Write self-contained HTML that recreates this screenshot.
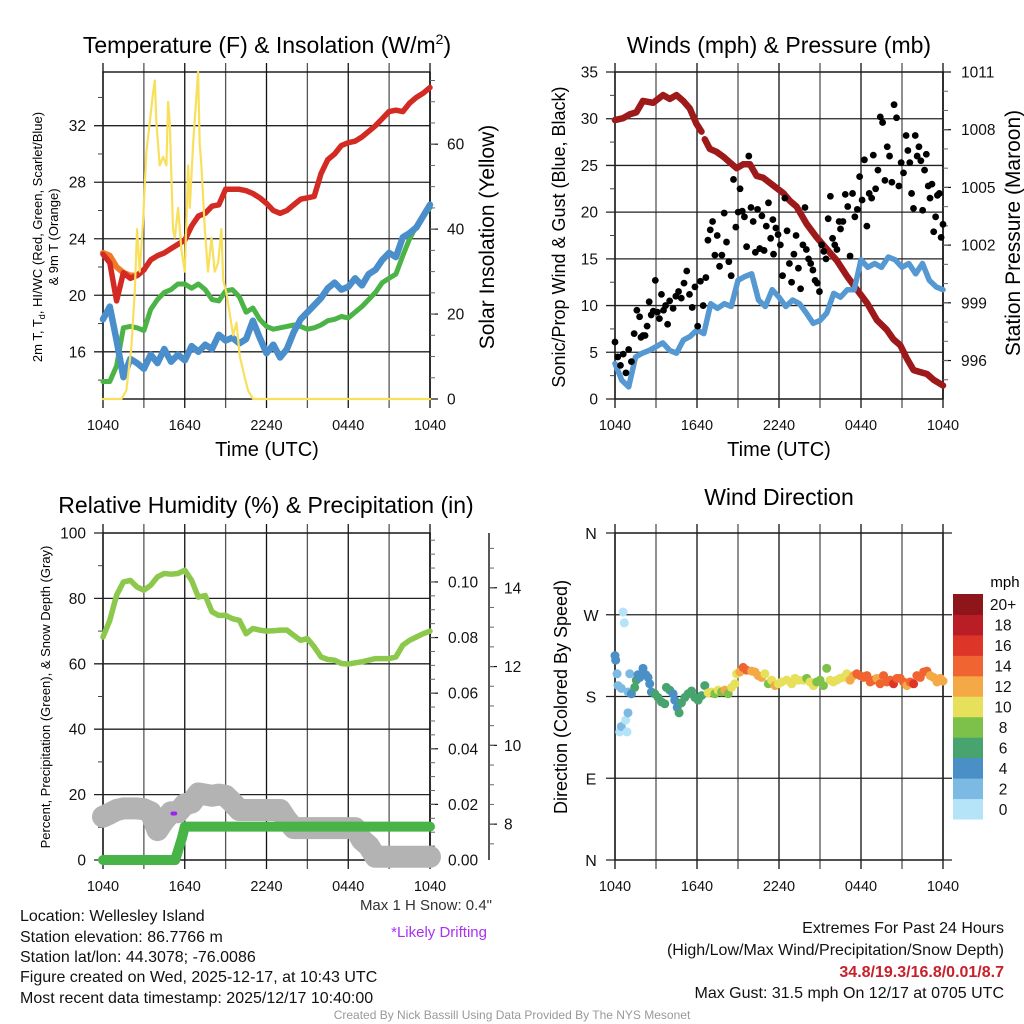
<!DOCTYPE html>
<html><head><meta charset="utf-8">
<style>
html,body{margin:0;padding:0;background:#fff;}
svg{display:block;font-family:"Liberation Sans",Arial,sans-serif;}
</style></head>
<body>
<svg id="fig" width="1024" height="1024" viewBox="0 0 1024 1024">
<text x="267" y="53" font-size="23" text-anchor="middle">Temperature (F) &amp; Insolation (W/m<tspan font-size="14" dy="-9">2</tspan><tspan dy="9">)</tspan></text>
<text x="779" y="53" font-size="23" text-anchor="middle">Winds (mph) &amp; Pressure (mb)</text>
<text x="266" y="513" font-size="23" text-anchor="middle">Relative Humidity (%) &amp; Precipitation (in)</text>
<text x="779" y="505" font-size="23" text-anchor="middle">Wind Direction</text>

<text x="267" y="456" font-size="20" text-anchor="middle">Time (UTC)</text>
<text x="779" y="456" font-size="20" text-anchor="middle">Time (UTC)</text>

<text transform="translate(42,237) rotate(-90)" font-size="13" text-anchor="middle">2m T, T<tspan font-size="9" dy="3">d</tspan><tspan dy="-3">, HI/WC (Red, Green, Scarlet/Blue)</tspan></text>
<text transform="translate(58,237) rotate(-90)" font-size="13" text-anchor="middle">&amp; 9m T (Orange)</text>
<text transform="translate(494,237) rotate(-90)" font-size="21" text-anchor="middle">Solar Insolation (Yellow)</text>
<text transform="translate(565,237) rotate(-90)" font-size="18" text-anchor="middle">Sonic/Prop Wind &amp; Gust (Blue, Black)</text>
<text transform="translate(1020,233) rotate(-90)" font-size="21" text-anchor="middle">Station Pressure (Maroon)</text>
<text transform="translate(50,697) rotate(-90)" font-size="13" text-anchor="middle">Percent, Precipitation (Green), &amp; Snow Depth (Gray)</text>
<text transform="translate(567,697) rotate(-90)" font-size="18" text-anchor="middle">Direction (Colored By Speed)</text>

<g id="layer"></g>

<text x="1005" y="587" font-size="15" text-anchor="middle">mph</text>

<text x="492" y="910" font-size="15" text-anchor="end" fill="#333">Max 1 H Snow: 0.4"</text>
<text x="487" y="937" font-size="15" text-anchor="end" fill="#a832f0">*Likely Drifting</text>

<g font-size="16" fill="#111">
<text x="20" y="921">Location: Wellesley Island</text>
<text x="20" y="942">Station elevation: 86.7766 m</text>
<text x="20" y="962">Station lat/lon: 44.3078; -76.0086</text>
<text x="20" y="982">Figure created on Wed, 2025-12-17, at 10:43 UTC</text>
<text x="20" y="1003">Most recent data timestamp: 2025/12/17 10:40:00</text>
</g>
<g font-size="16" fill="#111" text-anchor="end">
<text x="1004" y="933">Extremes For Past 24 Hours</text>
<text x="1004" y="955">(High/Low/Max Wind/Precipitation/Snow Depth)</text>
<text x="1004" y="977" fill="#c8202a" font-weight="bold">34.8/19.3/16.8/0.01/8.7</text>
<text x="1004" y="998">Max Gust: 31.5 mph On 12/17 at 0705 UTC</text>
</g>
<text x="512" y="1019" font-size="12" fill="#999" text-anchor="middle">Created By Nick Bassill Using Data Provided By The NYS Mesonet</text>
</svg>

<script>
// ---------- DATA ----------
const xTickLabels = ["1040","1640","2240","0440","1040"];
const halfHourTimes = [0,0.5,1,1.5,2,2.5,3,3.5,4,4.5,5,5.5,6,6.5,7,7.5,8,8.5,9,9.5,10,10.5,11,11.5,12,12.5,13,13.5,14,14.5,15,15.5,16,16.5,17,17.5,18,18.5,19,19.5,20,20.5,21,21.5,22,22.5,23,23.5,24];
const tempValues = [22.9,22.3,19.6,21.6,21.2,21.4,21.8,22.5,22.8,23.0,23.3,23.6,23.9,24.9,25.6,25.8,26.3,26.4,27.5,27.5,27.5,27.4,27.2,26.9,26.5,26.0,25.8,26.0,26.4,26.8,26.9,27.0,28.6,29.6,30.0,30.6,30.8,30.9,31.2,31.6,32.0,32.5,33.0,33.1,33.0,33.6,34.0,34.3,34.7];
const temp9mTimes = [0,0.5,1,1.5,2,2.5,3];
const temp9mValues = [23.0,22.8,22.0,21.6,21.4,21.4,21.8];
const dewValues = [13.9,13.9,15.0,17.7,17.8,17.7,17.5,19.0,19.7,20.2,20.4,20.8,20.8,20.5,20.8,20.4,19.7,19.6,20.3,20.4,19.9,18.8,19.1,18.3,17.8,17.6,17.7,17.8,17.9,17.8,17.6,17.7,17.9,18.2,18.3,18.5,18.4,18.8,19.2,19.7,20.2,20.9,21.2,21.5,22.8,24.0,24.9,25.6,26.2];
const windChillValues = [18.3,19.2,16.8,14.2,15.5,15.2,14.8,15.8,15.2,16.2,15.3,15.8,15.4,16.4,16.0,16.5,16.2,17.2,16.8,17.0,16.6,16.9,18.2,17.0,15.9,16.5,15.6,16.2,17.4,18.3,18.8,19.3,19.8,20.5,20.9,20.4,20.6,21.2,20.7,21.5,21.8,22.5,23.0,22.7,24.1,24.4,24.8,25.6,26.4];
const solarTimes = [0,1.35,1.71,2.08,2.33,2.5,2.69,2.94,3.18,3.43,3.67,3.8,3.92,4.16,4.41,4.65,4.78,4.9,5.14,5.27,5.51,5.76,6.0,6.25,6.37,6.61,6.98,7.1,7.22,7.47,7.71,7.96,8.2,8.45,8.69,8.82,9.06,9.31,9.55,9.8,10.04,10.41,10.65,11.02,24];
const solarValues = [0,0,2,12,25,40,30,42,58,65,72,75,65,55,57,55,70,65,40,38,45,35,30,55,45,60,77,60,55,40,30,38,30,32,40,28,25,20,15,18,10,5,2,0,0];

const pressureTimes = [0,0.59,1.08,1.56,2.05,2.79,3.52,4.01,4.5,4.99,5.47,5.96,6.33];
const pressureValues = [1008.5,1008.6,1008.8,1008.9,1009.5,1009.4,1009.8,1009.6,1009.8,1009.5,1009.1,1008.3,1007.9];
const pressureTimes2 = [6.57,6.94,7.43,7.92,8.41,8.9,9.38,9.87,10.36,10.85,11.58,12.32,12.8,13.29,14.03,14.76,15.49,16.23,16.96,17.69,18.43,19.16,19.89,20.38,20.87,21.36,21.85,22.34,22.83,23.31,24];
const pressureValues2 = [1007.5,1007.0,1006.85,1006.6,1006.3,1006.0,1006.2,1006.2,1005.6,1005.5,1005.1,1004.7,1004.3,1004.0,1003.1,1002.4,1001.8,1001.2,1000.4,999.7,999.0,998.1,997.6,997.1,996.8,996.1,995.5,995.4,995.3,995.0,994.7];
const windValues = [3.8,2.0,1.3,4.5,4.9,5.2,5.6,6.0,5.2,4.9,6.3,6.7,7.4,7.0,10.2,9.7,10.2,9.9,12.7,13.1,13.4,10.6,9.9,11.7,10.9,9.9,10.6,10.2,9.2,8.1,8.4,9.2,11.3,10.9,11.7,11.7,14.9,14.1,14.5,14.1,15.2,14.9,14.1,14.5,13.4,14.5,12.7,12.0,11.7];
const gustTimes = [0,0.2,0.4,0.6,0.8,1.0,1.2,1.4,1.6,1.8,
 1.9,2.05,2.2,2.35,2.5,2.65,2.8,2.95,3.1,3.25,3.4,3.55,3.7,3.85,4.0,
 4.25,4.45,4.65,4.85,5.05,5.25,5.45,5.65,5.85,6.05,6.25,6.45,6.65,
 6.8,6.97,7.14,7.31,7.48,7.65,7.82,7.99,8.16,8.33,8.5,8.67,8.84,9.01,
 9.15,9.31,9.47,9.63,9.79,9.95,10.11,10.27,10.43,10.59,10.75,10.91,11.07,11.23,11.39,11.55,
 11.6,11.77,11.93,12.1,12.26,12.43,12.59,12.76,12.92,13.09,13.25,13.42,13.58,13.75,13.9,
 14.0,14.16,14.32,14.48,14.64,14.8,14.96,15.12,15.28,15.44,15.6,15.76,15.92,16.08,16.24,16.4,
 16.5,16.68,16.85,17.03,17.2,17.38,17.55,17.73,17.9,18.08,18.25,18.43,18.6,18.78,
 18.9,19.07,19.24,19.41,19.58,19.75,19.92,20.09,20.26,20.42,20.6,20.77,20.94,21.11,
 21.3,21.43,21.57,21.7,21.84,21.97,22.11,22.24,22.38,22.51,22.65,22.78,22.92,23.05,23.19,23.32,23.46,23.59,23.73,23.86,24.0];
const gustValues = [6.1,4.5,3.6,4.8,2.8,5.3,4.0,7.0,9.5,8.8,
 6.6,6.8,6.8,7.8,10.4,9.0,9.4,12.7,9.3,8.6,11.2,9.5,10.0,8.0,10.5,
 9.7,11,11.5,10.8,12.4,13.7,11.2,9.8,12,7.8,12.6,10,13,
 17,18.1,19,15.4,17.5,14.2,15.4,19.9,16.8,14.7,13.2,23.5,18.4,20,
 22.5,20.1,19.5,16.3,26,20.5,19,15.7,20.3,16.1,19.6,15.9,18.5,21,17.2,19.2,
 15.5,18.3,17.6,16.5,13.2,21.5,18,14.5,12.5,15.5,17.5,14,11.8,16.5,20.5,
 16,15,14.5,13.8,12.7,12.4,11.5,16.5,15.8,15,19.3,21.7,17.2,16.5,16,19,
 18.2,19,21.9,20.6,15.3,22,19.5,20.3,23.8,21.3,25.6,18.5,22,21.5,
 26.1,22.5,24.5,30.2,29.6,23.4,27,26,23.2,31.5,30.1,22.8,25.3,24.2,
 28.2,26.6,25.3,22,20.4,28.2,26,27,25.5,20.2,24.5,26.2,22.8,21.5,23,17.9,19.5,21.8,22,17.3,18.7];

const rhValues = [68.2,73.3,81,85,85.5,83.5,82.5,84,86.6,87.6,87.4,87.6,88.6,85.5,80.4,80.9,75.9,74.8,74.8,73.8,73.3,69.2,70.8,70.3,70,70.1,70.3,70.3,68.7,67.2,67.7,65.2,62.1,61.3,61.1,60.1,59.9,60.3,60.6,61.1,61.6,61.6,61.6,62.1,65.7,67.2,68.2,69.2,70];
const precipTimes = [0,5.3,5.55,5.8,6.0,24];
const precipValues = [0,0,0.004,0.008,0.012,0.012];
const snowValues = [8.19,8.27,8.36,8.4,8.4,8.4,8.38,8.3,7.85,8.1,8.3,8.3,8.5,8.55,8.78,8.75,8.72,8.75,8.72,8.55,8.36,8.36,8.36,8.36,8.36,8.36,8.36,8.1,7.9,7.9,7.9,7.9,7.9,7.9,7.9,7.9,7.9,7.9,7.6,7.45,7.17,7.17,7.17,7.17,7.17,7.17,7.17,7.17,7.17];
const driftTimes = [5.1,5.3];
const driftValues = [8.27,8.27];

const dirTimes = [0,0.05,0.15,0.22,0.46,0.34,0.46,0.59,0.68,0.78,0.88,0.95,0.95,1.08,1.2,1.44,1.56,1.69,1.81,2.05,2.25,2.42,2.54,2.66,2.91,3.15,3.4,3.64,3.76,4.01,4.25,4.37,4.55,4.69,4.86,5.11,5.35,5.6,5.84,6.08,6.33,6.57,6.82,7.06,7.31,7.55,7.8,8.04,8.28,8.53,8.77,8.9,9.14,9.38,9.63,10.0,10.24,10.48,10.73,10.97,11.22,11.46,11.71,11.95,12.19,12.56,12.93,13.17,13.42,13.78,14.03,14.27,14.52,14.76,15.0,15.25,15.49,15.74,15.98,16.23,16.47,16.72,16.96,17.2,17.45,17.69,17.94,18.18,18.43,18.67,18.92,19.16,19.4,19.65,19.89,20.14,20.38,20.63,20.87,21.11,21.36,21.6,21.85,22.09,22.34,22.58,22.82,23.07,23.31,23.56,23.8,24];
const dirValues = [225,220,205,192,189,141,147,273,261,154,141,162,185,205,183,190,198,204,201,211,204,201,194,185,183,179,174,172,190,187,183,176,168,162,173,179,183,186,179,176,181,192,184,185,183,187,185,187,183,190,194,205,207,212,209,208,207,203,201,205,194,198,192,194,196,198,194,200,198,198,200,196,192,196,198,192,211,198,196,198,200,201,205,198,203,205,203,201,203,196,198,200,194,203,196,198,194,200,200,196,192,196,194,203,201,207,208,203,201,196,200,197];
const dirSpeeds = [4,4,3,2.5,2,1.5,2,0.5,0.5,1,0.5,2,2,2,4,6,6,4,5,4,4,4,4,4,6,6,6,6,6,6,4,5,4,6,6,6,6,7,6,6,6,6,10,10,9,10,9,12,8,10,10,11,13,15,14,13,12,12,13,11,8,10,12,10,10,10,10,10,10,10,9,10,10,8,9,8,8,10,10,11,10,10,10,12,13,15,15,14,14,15,14,13,14,15,14,15,16,14,15,14,12,15,16,14,15,14,15,13,12,12,12,12];
const speedBinLabels = ["0","2","4","6","8","10","12","14","16","18","20+"];
const speedBinColors = ["#b5e3f8","#7cb9e3","#4a8fc6","#47a46e","#7dc04a","#e6e05b","#f5a946","#ef6430","#dd3629","#b91d25","#8e1519"];

// ---------- HELPERS ----------
const NS = "http://www.w3.org/2000/svg";
const layer = document.getElementById("layer");
function mk(tag, attrs, name, parent) {
  const el = document.createElementNS(NS, tag);
  for (const k in attrs) el.setAttribute(k, attrs[k]);
  
  
  (parent || layer).appendChild(el);
  return el;
}
function lin(d0, d1, r0, r1) { return v => r0 + (v - d0) / (d1 - d0) * (r1 - r0); }
function txt(x, y, s, size, anchor, name, fill) {
  const t = mk("text", {x: x, y: y, "font-size": size, "text-anchor": anchor, fill: fill || "#111"}, name);
  t.textContent = s;
  return t;
}
function frame(P, key) {
  const xs = lin(0, 24, P.x0, P.x1);
  for (let h = 0; h <= 24; h += 3) {
    const x = xs(h);
    mk("line", {x1: x, x2: x, y1: P.y0 - 9, y2: P.y1 + 9, stroke: (h % 6 === 0) ? "#111" : "#555", "stroke-width": 1.3}, key + "-vgrid");
  }
  xTickLabels.forEach((s, i) => { txt(xs(i * 6), P.y1 + 31, s, 14.5, "middle", key + "-x-tick-label"); });
  mk("rect", {x: P.x0, y: P.y0, width: P.x1 - P.x0, height: P.y1 - P.y0, fill: "none", stroke: "#111", "stroke-width": 1.4}, key + "-plot-frame");
  return xs;
}
function leftAxis(P, ys, majors, labels, minors, key, gridOn) {
  majors.forEach((v, i) => {
    const y = ys(v);
    mk("line", {x1: P.x0 - 9, x2: gridOn ? P.x1 : P.x0, y1: y, y2: y, stroke: "#222", "stroke-width": 1.3}, key + "-hgrid");
    txt(P.x0 - 17, y + 5.5, labels[i], 15.5, "end", key + "-y-tick-label");
  });
  minors.forEach(v => { const y = ys(v); mk("line", {x1: P.x0 - 5, x2: P.x0, y1: y, y2: y, stroke: "#444", "stroke-width": 1}, key + "-y-minor-tick"); });
}
function rightAxis(ax, ys, y0, y1, majors, labels, minors, key, lblx) {
  mk("line", {x1: ax, x2: ax, y1: y0, y2: y1, stroke: "#111", "stroke-width": 1.4}, key + "-axis-line");
  majors.forEach((v, i) => {
    const y = ys(v);
    mk("line", {x1: ax, x2: ax + 8, y1: y, y2: y, stroke: "#111", "stroke-width": 1.2}, key + "-major-tick");
    txt(lblx, y + 5.5, labels[i], 15.5, "start", key + "-tick-label");
  });
  minors.forEach(v => { const y = ys(v); mk("line", {x1: ax, x2: ax + 5, y1: y, y2: y, stroke: "#666", "stroke-width": 1}, key + "-minor-tick"); });
}
function line(times, vals, xs, ys, color, w, name) {
  const pts = times.map((t, i) => xs(t).toFixed(1) + "," + ys(vals[i]).toFixed(1)).join(" ");
  return mk("polyline", {points: pts, fill: "none", stroke: color, "stroke-width": w, "stroke-linejoin": "round", "stroke-linecap": "round"}, name);
}
function range(a, b, s) { const r = []; for (let v = a; v <= b + 1e-9; v += s) r.push(+v.toFixed(4)); return r; }

// ---------- PANEL 1: TEMPERATURE ----------
const P1 = {x0: 103, x1: 430, y0: 72, y1: 399};
const x1s = frame(P1, "temp");
const yT = lin(12.66, 35.8, P1.y1, P1.y0);
const yS = lin(0, 77, P1.y1, P1.y0);
leftAxis(P1, yT, [16,20,24,28,32], ["16","20","24","28","32"], [14,18,22,26,30,34], "temp", true);
rightAxis(P1.x1, yS, P1.y0, P1.y1, [0,20,40,60], ["0","20","40","60"], range(5, 75, 5), "insolation", 447);
line(temp9mTimes, temp9mValues, x1s, yT, "#f07a2a", 6, "temp-9m-line");
line(halfHourTimes, tempValues, x1s, yT, "#d42a24", 5.5, "temp-2m-line");
line(halfHourTimes, dewValues, x1s, yT, "#4cb446", 5, "dewpoint-line");
line(halfHourTimes, windChillValues, x1s, yT, "#4a8fcc", 6.5, "windchill-line");
line(solarTimes, solarValues, x1s, yS, "#f8e05c", 2.2, "insolation-line");

// ---------- PANEL 2: WIND ----------
const P2 = {x0: 615, x1: 943, y0: 72, y1: 399};
const x2s = frame(P2, "wind");
const yW = lin(0, 35, P2.y1, P2.y0);
const yP = lin(994, 1011, P2.y1, P2.y0);
leftAxis(P2, yW, [0,5,10,15,20,25,30,35], ["0","5","10","15","20","25","30","35"], range(2.5, 32.5, 5), "wind", true);
rightAxis(P2.x1, yP, P2.y0, P2.y1, [996,999,1002,1005,1008,1011], ["996","999","1002","1005","1008","1011"], range(995, 1010, 1), "pressure", 961);
line(pressureTimes, pressureValues, x2s, yP, "#9e1a1a", 6.5, "pressure-line");
line(pressureTimes2, pressureValues2, x2s, yP, "#9e1a1a", 6.5, "pressure-line-2");
line(halfHourTimes, windValues, x2s, yW, "#5598d2", 5.5, "wind-speed-line");
gustTimes.forEach((t, i) => {
  const c = mk("circle", {cx: x2s(t), cy: yW(gustValues[i]), r: 3.4, fill: "#000"}, "gust-point");
  
});

// ---------- PANEL 3: HUMIDITY ----------
const P3 = {x0: 103, x1: 430, y0: 533, y1: 860};
const x3s = frame(P3, "rh");
const yR = lin(0, 100, P3.y1, P3.y0);
const yPr = lin(0, 0.1176, P3.y1, P3.y0);
const ySn = lin(7.09, 15.39, P3.y1, P3.y0);
leftAxis(P3, yR, [0,20,40,60,80,100], ["0","20","40","60","80","100"], [10,30,50,70,90], "rh", true);
rightAxis(P3.x1, yPr, P3.y0, P3.y1, [0,0.02,0.04,0.06,0.08,0.10], ["0.00","0.02","0.04","0.06","0.08","0.10"], range(0.005, 0.115, 0.005), "precip", 448);
rightAxis(489, ySn, P3.y0, P3.y1, [8,10,12,14], ["8","10","12","14"], range(7.5, 15, 0.5), "snow", 504);
line(halfHourTimes, snowValues, x3s, ySn, "#b3b3b3", 22, "snow-depth-line");
line(driftTimes, driftValues, x3s, ySn, "#a020f0", 4, "drifting-marker");
line(precipTimes, precipValues, x3s, yPr, "#48b448", 10, "precip-line");
line(halfHourTimes, rhValues, x3s, yR, "#8cc84b", 5.5, "rh-line");

// ---------- PANEL 4: DIRECTION ----------
const P4 = {x0: 615, x1: 943, y0: 533, y1: 860};
const x4s = frame(P4, "dir");
const yD = lin(0, 360, P4.y1, P4.y0);
[0,90,180,270,360].forEach((v, i) => {
  const y = yD(v);
  mk("line", {x1: P4.x0 - 9, x2: P4.x1 + 9, y1: y, y2: y, stroke: "#222", "stroke-width": 1.3}, "dir-hgrid");
  txt(591, y + 6, ["N","E","S","W","N"][i], 16, "middle", "dir-tick-label");
});
dirTimes.forEach((t, i) => {
  const bin = Math.min(10, Math.floor(dirSpeeds[i] / 2));
  const c = mk("circle", {cx: x4s(t), cy: yD(dirValues[i]), r: 4.5, fill: speedBinColors[bin]}, "direction-point");
  
});
// colorbar
const cbTop = 594, cbH = 225 / 11;
speedBinColors.forEach((col, i) => {
  const y = cbTop + (10 - i) * cbH;
  mk("rect", {x: 953, y: y, width: 30, height: cbH + 0.5, fill: col}, "colorbar-box");
  txt(1003, y + cbH / 2 + 6, speedBinLabels[i], 15.5, "middle", "colorbar-label");
});
</script>
</body></html>
